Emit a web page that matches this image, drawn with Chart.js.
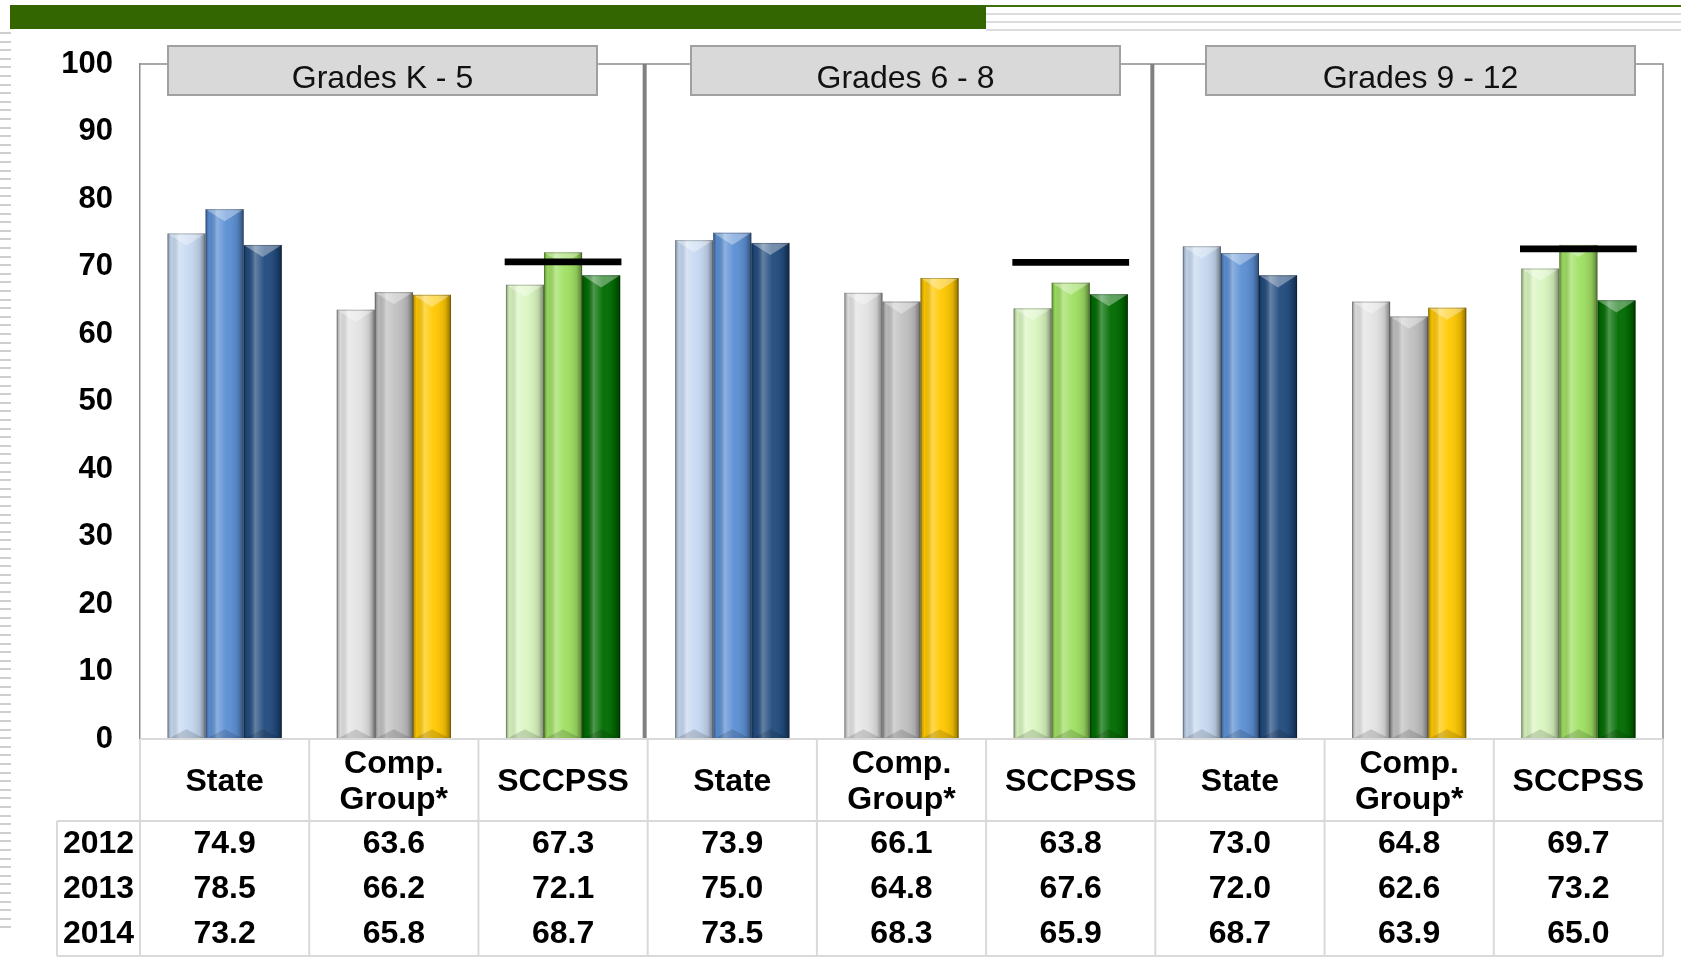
<!DOCTYPE html>
<html>
<head>
<meta charset="utf-8">
<title>State / Comp. Group / SCCPSS by grade band</title>
<script src="https://cdn.jsdelivr.net/npm/chart.js@4.4.1/dist/chart.umd.min.js"></script>
<style>
  html, body { margin: 0; padding: 0; background: #fff; }
  #wrap { position: relative; width: 1681px; height: 966px; overflow: hidden; background: #fff; }
  .deco { position: absolute; }
  #chart { position: absolute; left: 0; top: 0; }
</style>
</head>
<body>
<div id="wrap">
  <div class="deco" style="left:10px;top:5px;width:976px;height:24px;background:#336600"></div>
  <div class="deco" style="left:986px;top:5px;width:695px;height:2px;background:#3f7010"></div>
  <div class="deco" style="left:986px;top:13px;width:695px;height:2px;background:#dcdcdc"></div>
  <div class="deco" style="left:986px;top:21px;width:695px;height:2px;background:#dcdcdc"></div>
  <div class="deco" style="left:986px;top:29px;width:695px;height:2px;background:#dcdcdc"></div>
  <div class="deco" style="left:0;top:32px;width:11px;height:900px;background:repeating-linear-gradient(to bottom,#cfcfcf 0,#cfcfcf 2px,transparent 2px,transparent 8.6px)"></div>
  <canvas id="chart" width="1681" height="966"></canvas>
</div>
<script>
/* dữ liệu */
const panelTitles = ['Grades K - 5', 'Grades 6 - 8', 'Grades 9 - 12'];
const groupNames = [['State'], ['Comp.', 'Group*'], ['SCCPSS']];
const years = ['2012', '2013', '2014'];

const values2012 = [74.9, 63.6, 67.3, 73.9, 66.1, 63.8, 73.0, 64.8, 69.7];
const values2013 = [78.5, 66.2, 72.1, 75.0, 64.8, 67.6, 72.0, 62.6, 73.2];
const values2014 = [73.2, 65.8, 68.7, 73.5, 68.3, 65.9, 68.7, 63.9, 65.0];
const targetValues = [null, null, 70.7, null, null, 70.6, null, null, 72.6];

const yMin = 0, yMax = 100, yStep = 10;

// màu theo nhóm: State, Comp. Group, SCCPSS
const colors2012 = ['#c6d9f1', '#e3e3e3', '#d9f6bf'];
const colors2013 = ['#5b8fd4', '#c0c0c0', '#9fe062'];
const colors2014 = ['#214b7e', '#ffc800', '#006c00'];

const FONT = '"Liberation Sans", Arial, sans-serif';

const categories = [];
panelTitles.forEach(() => groupNames.forEach(g => categories.push(g)));
const perBar = (groupColors) => categories.map((c, i) => groupColors[i % groupNames.length]);
const yearValues = [values2012, values2013, values2014];
const yearColors = [colors2012, colors2013, colors2014];

function shadeBar(ctx, el) {
    const {x, y, base, width} = el.getProps(['x', 'y', 'base', 'width'], true);
    const x0 = x - width / 2, x1 = x + width / 2;
    const top = Math.min(y, base), bot = Math.max(y, base);
    const h = bot - top;
    const bev = Math.min(width * 0.32, h / 2);

    const g = ctx.createLinearGradient(x0, 0, x1, 0);
    g.addColorStop(0, 'rgba(0,0,0,0.32)');
    g.addColorStop(0.1, 'rgba(0,0,0,0.04)');
    g.addColorStop(0.3, 'rgba(255,255,255,0.30)');
    g.addColorStop(0.55, 'rgba(255,255,255,0.04)');
    g.addColorStop(0.85, 'rgba(0,0,0,0.12)');
    g.addColorStop(1, 'rgba(0,0,0,0.45)');
    ctx.fillStyle = g;
    ctx.fillRect(x0, top, width, h);

    ctx.fillStyle = 'rgba(255,255,255,0.35)';
    ctx.beginPath();
    ctx.moveTo(x0, top); ctx.lineTo(x1, top); ctx.lineTo(x, top + bev);
    ctx.closePath(); ctx.fill();

    ctx.fillStyle = 'rgba(0,0,0,0.14)';
    ctx.beginPath();
    ctx.moveTo(x0, bot); ctx.lineTo(x1, bot); ctx.lineTo(x, bot - bev * 0.8);
    ctx.closePath(); ctx.fill();

    ctx.strokeStyle = 'rgba(0,0,0,0.25)';
    ctx.lineWidth = 1;
    ctx.strokeRect(x0 + 0.5, top + 0.5, width - 1, h - 1);
}

const framePlugin = {
    id: 'panelFrame',
    beforeDatasetsDraw(chart) {
        const {ctx, chartArea: a, scales: {x}} = chart;
        const catW = (x.right - x.left) / categories.length;
        ctx.save();
        ctx.strokeStyle = '#8c8c8c';
        ctx.lineWidth = 1.5;
        ctx.beginPath();
        ctx.moveTo(a.left, a.top); ctx.lineTo(a.right, a.top); ctx.lineTo(a.right, a.bottom);
        ctx.stroke();
        ctx.strokeStyle = '#808080';
        ctx.lineWidth = 4;
        for (let p = 1; p < panelTitles.length; p++) {
            const xx = x.left + p * groupNames.length * catW - 3;
            ctx.beginPath(); ctx.moveTo(xx, a.top); ctx.lineTo(xx, a.bottom); ctx.stroke();
        }
        ctx.restore();
    },
    afterDatasetDraw(chart, args) {
        if (args.index >= years.length) return;
        const ctx = chart.ctx;
        ctx.save();
        args.meta.data.forEach(el => shadeBar(ctx, el));
        ctx.restore();
    },
    afterDraw(chart) {
        const {ctx, chartArea: a, scales: {x}} = chart;
        const catW = (x.right - x.left) / categories.length;
        const headBottom = 821, tableBottom = 956, yearLeft = 57;
        const rowH = (tableBottom - headBottom) / years.length;
        ctx.save();

        // bảng dữ liệu
        ctx.strokeStyle = '#d9d9d9';
        ctx.lineWidth = 2;
        ctx.beginPath();
        ctx.moveTo(a.left, a.bottom); ctx.lineTo(a.right, a.bottom);
        ctx.moveTo(yearLeft, headBottom); ctx.lineTo(a.right, headBottom);
        ctx.moveTo(yearLeft, tableBottom); ctx.lineTo(a.right, tableBottom);
        ctx.moveTo(yearLeft, headBottom); ctx.lineTo(yearLeft, tableBottom);
        for (let i = 0; i <= categories.length; i++) {
            const xx = x.left + i * catW;
            ctx.moveTo(xx, a.bottom); ctx.lineTo(xx, tableBottom);
        }
        ctx.stroke();

        ctx.fillStyle = '#000';
        ctx.font = 'bold 32px ' + FONT;
        ctx.textAlign = 'center';
        ctx.textBaseline = 'middle';
        const headMid = (a.bottom + headBottom) / 2 + 2;
        categories.forEach((lines, i) => {
            const cx = x.getPixelForValue(i);
            const lh = 36;
            lines.forEach((t, k) => ctx.fillText(t, cx, headMid + (k - (lines.length - 1) / 2) * lh));
        });
        years.forEach((yr, r) => {
            const cy = headBottom + rowH * (r + 0.5) + 1;
            ctx.fillText(yr, (yearLeft + a.left) / 2, cy);
            yearValues[r].forEach((v, i) => ctx.fillText(v.toFixed(1), x.getPixelForValue(i), cy));
        });

        // tiêu đề từng khối lớp
        const boxLeft = [168, 691, 1206], boxW = 429, boxTop = 46, boxH = 49;
        panelTitles.forEach((t, p) => {
            ctx.fillStyle = '#d9d9d9';
            ctx.fillRect(boxLeft[p], boxTop, boxW, boxH);
            ctx.strokeStyle = '#a0a0a0';
            ctx.lineWidth = 2;
            ctx.strokeRect(boxLeft[p], boxTop, boxW, boxH);
            ctx.fillStyle = '#111';
            ctx.font = '32px ' + FONT;
            ctx.textBaseline = 'alphabetic';
            ctx.fillText(t, boxLeft[p] + boxW / 2, boxTop + 42);
        });
        ctx.restore();
    }
};

const datasets = years.map((yr, k) => ({
    label: yr,
    data: yearValues[k],
    backgroundColor: perBar(yearColors[k]),
    borderWidth: 0,
    categoryPercentage: 0.675,
    barPercentage: 1.0
}));
datasets.push({
    label: 'Target',
    data: targetValues.map(t => t === null ? null : [t - 0.5, t + 0.5]),
    backgroundColor: '#000',
    borderWidth: 0,
    grouped: false,
    categoryPercentage: 0.69,
    barPercentage: 1.0,
    order: -1
});

new Chart(document.getElementById('chart').getContext('2d'), {
    type: 'bar',
    data: { labels: categories, datasets: datasets },
    options: {
        responsive: false,
        animation: false,
        devicePixelRatio: 1,
        layout: { padding: { left: 0, right: 18, top: 64, bottom: 227 } },
        plugins: { legend: { display: false }, tooltip: { enabled: false } },
        scales: {
            x: { display: false },
            y: {
                min: yMin, max: yMax,
                ticks: {
                    stepSize: yStep,
                    padding: 27,
                    color: '#000',
                    font: { family: FONT, size: 31, weight: 'bold' }
                },
                grid: { display: false, drawTicks: false },
                border: { display: true, color: '#8c8c8c', width: 1.5 },
                afterFit(scale) { scale.width = 140; }
            }
        }
    },
    plugins: [framePlugin]
});
</script>
</body>
</html>
